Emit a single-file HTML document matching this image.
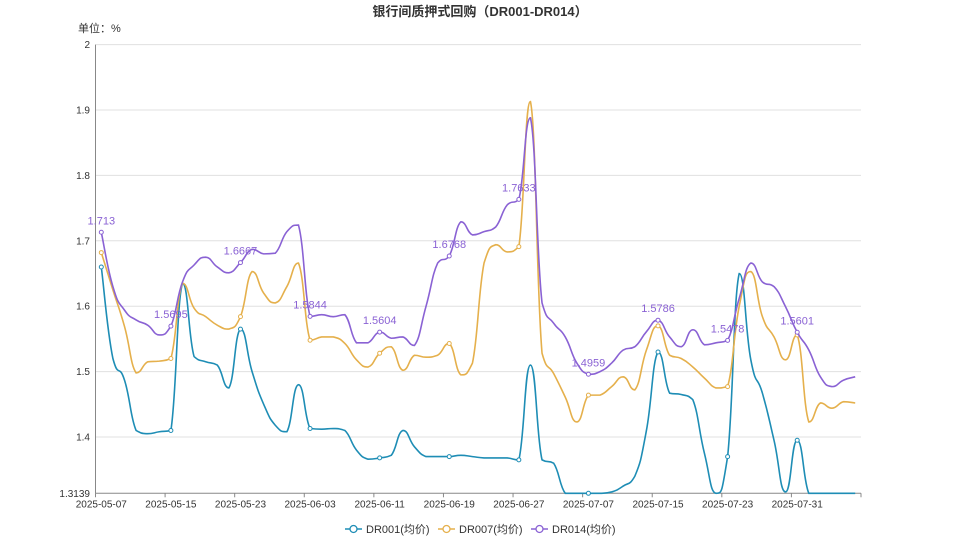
<!DOCTYPE html>
<html><head><meta charset="utf-8">
<style>
body{margin:0;background:#fff;}
svg{display:block;font-family:"Liberation Sans","Noto Sans CJK SC",sans-serif;}
</style></head>
<body>
<svg id="chart" width="959" height="539" viewBox="0 0 959 539">
<text x="480" y="16" text-anchor="middle" font-size="13" font-weight="bold" fill="#333">银行间质押式回购（DR001-DR014）</text>
<text x="78" y="32" font-size="11" fill="#333">单位：%</text>
<g id="grid"></g>
<g id="series"></g>
<g id="legend"></g>
</svg>
<script>
const dates=["2025-05-07","2025-05-08","2025-05-09","2025-05-12","2025-05-13","2025-05-14","2025-05-15","2025-05-16","2025-05-19","2025-05-20","2025-05-21","2025-05-22","2025-05-23","2025-05-26","2025-05-27","2025-05-28","2025-05-29","2025-05-30","2025-06-03","2025-06-04","2025-06-05","2025-06-06","2025-06-09","2025-06-10","2025-06-11","2025-06-12","2025-06-13","2025-06-16","2025-06-17","2025-06-18","2025-06-19","2025-06-20","2025-06-23","2025-06-24","2025-06-25","2025-06-26","2025-06-27","2025-06-30","2025-07-01","2025-07-02","2025-07-03","2025-07-04","2025-07-07","2025-07-08","2025-07-09","2025-07-10","2025-07-11","2025-07-14","2025-07-15","2025-07-16","2025-07-17","2025-07-18","2025-07-21","2025-07-22","2025-07-23","2025-07-24","2025-07-25","2025-07-28","2025-07-29","2025-07-30","2025-07-31","2025-08-01","2025-08-04","2025-08-05","2025-08-06","2025-08-07"];
const dr001=[1.66,1.52,1.487,1.41,1.405,1.408,1.41,1.635,1.523,1.515,1.51,1.475,1.565,1.50,1.45,1.418,1.408,1.48,1.413,1.412,1.413,1.41,1.38,1.366,1.368,1.372,1.41,1.385,1.37,1.37,1.37,1.372,1.37,1.368,1.368,1.368,1.365,1.51,1.365,1.36,1.3139,1.3139,1.3139,1.3139,1.316,1.325,1.34,1.41,1.53,1.467,1.465,1.457,1.375,1.3139,1.37,1.65,1.518,1.467,1.395,1.316,1.395,1.3139,1.3139,1.3139,1.3139,1.3139];
const dr007=[1.682,1.625,1.569,1.498,1.515,1.516,1.52,1.635,1.597,1.584,1.571,1.565,1.584,1.653,1.62,1.605,1.63,1.666,1.548,1.553,1.553,1.543,1.518,1.507,1.528,1.538,1.502,1.525,1.522,1.525,1.543,1.495,1.513,1.666,1.694,1.683,1.691,1.913,1.528,1.497,1.461,1.423,1.464,1.464,1.477,1.492,1.472,1.533,1.57,1.525,1.52,1.507,1.49,1.475,1.477,1.60,1.653,1.584,1.553,1.518,1.556,1.423,1.452,1.444,1.454,1.452];
const dr014=[1.713,1.63,1.594,1.579,1.571,1.556,1.5695,1.637,1.663,1.675,1.66,1.651,1.6667,1.687,1.68,1.681,1.714,1.724,1.5844,1.587,1.584,1.587,1.544,1.544,1.5604,1.551,1.553,1.54,1.60,1.666,1.6768,1.729,1.709,1.714,1.721,1.755,1.7633,1.888,1.605,1.574,1.553,1.513,1.4959,1.50,1.513,1.533,1.538,1.561,1.5786,1.553,1.538,1.564,1.541,1.544,1.5478,1.612,1.666,1.637,1.63,1.599,1.5601,1.533,1.492,1.477,1.487,1.492];
const yTicks=[1.3139,1.4,1.5,1.6,1.7,1.8,1.9,2];
const seriesNames=["DR001(均价)","DR007(均价)","DR014(均价)"];

const NS="http://www.w3.org/2000/svg";
const L=95.5,R=861,T=44.6,B=493.3,YMIN=1.3139,YMAX=2;
const bw=(R-L)/dates.length;
function xs(i){return L+bw*(i+0.5);}
function ys(v){return B-(v-YMIN)/(YMAX-YMIN)*(B-T);}
function mk(tag,attrs,parent){const e=document.createElementNS(NS,tag);for(const k in attrs)e.setAttribute(k,attrs[k]);parent.appendChild(e);return e;}
const grid=document.getElementById('grid');
yTicks.forEach((t,i)=>{
  const y=ys(t);
  if(i>0){const gl=mk('line',{x1:L,x2:R,y1:y,y2:y,stroke:'#e0e0e0','stroke-width':1},grid);
  
  }
  const tx=mk('text',{x:90,y:y+3.5,'text-anchor':'end','font-size':10,fill:'#333'},grid);
  tx.textContent=String(t);
  
  
});
const ya=mk('line',{x1:L,x2:L,y1:T,y2:B,stroke:'#888','stroke-width':1},grid);


const xa=mk('line',{x1:L,x2:R,y1:B,y2:B,stroke:'#888','stroke-width':1},grid);


for(let i=0;i<dates.length;i+=6){
  const tk=mk('line',{x1:L+bw*i,x2:L+bw*i,y1:B,y2:B+4,stroke:'#888'},grid);
  
  
  const tx=mk('text',{x:xs(i),y:B+14,'text-anchor':'middle','font-size':10,fill:'#333'},grid);
  tx.textContent=dates[i];
  
  
}
const tkEnd=mk('line',{x1:R,x2:R,y1:B,y2:B+4,stroke:'#888'},grid);



function smoothPath(pts){
  let d='M'+pts[0][0]+','+pts[0][1];
  const s=0.5;
  for(let i=0;i<pts.length-1;i++){
    const p0=pts[i-1]||pts[i],p1=pts[i],p2=pts[i+1],p3=pts[i+2]||p2;
    let c1x=p1[0]+(p2[0]-p0[0])*s/2,c1y=p1[1]+(p2[1]-p0[1])*s/2;
    let c2x=p2[0]-(p3[0]-p1[0])*s/2,c2y=p2[1]-(p3[1]-p1[1])*s/2;
    const mn=Math.min(p1[1],p2[1]),mx=Math.max(p1[1],p2[1]);
    c1y=Math.min(Math.max(c1y,mn),mx);
    c2y=Math.min(Math.max(c2y,mn),mx);
    d+=' C'+c1x+','+c1y+' '+c2x+','+c2y+' '+p2[0]+','+p2[1];
  }
  return d;
}
const sg=document.getElementById('series');
const colors=['#1e8db5','#e5b04c','#8a62d4'];
const allData=[dr001,dr007,dr014];
const keys=['dr001','dr007','dr014'];
allData.forEach((data,si)=>{
  const pts=data.map((v,i)=>[xs(i),ys(v)]);
  const p=mk('path',{d:smoothPath(pts),fill:'none',stroke:colors[si],'stroke-width':1.6},sg);
  
  
  for(let i=0;i<data.length;i+=6){
    const c=mk('circle',{cx:pts[i][0],cy:pts[i][1],r:2,fill:'#fff',stroke:colors[si],'stroke-width':1},sg);
    
    
    if(si===2){
      const t=mk('text',{x:pts[i][0],y:pts[i][1]-8,'text-anchor':'middle','font-size':11,fill:'#8a62d4'},sg);
      t.textContent=String(data[i]);
      
      
    }
  }
});
const lg=document.getElementById('legend');
const lx=[345,438,531];
seriesNames.forEach((n,i)=>{
  const g=mk('g',{},lg);
  
  
  mk('line',{x1:lx[i],x2:lx[i]+17,y1:529,y2:529,stroke:colors[i],'stroke-width':1.5},g);
  mk('circle',{cx:lx[i]+8.5,cy:529,r:3.5,fill:'#fff',stroke:colors[i],'stroke-width':1.3},g);
  const t=mk('text',{x:lx[i]+21,y:533,'font-size':11,fill:'#333'},g);
  t.textContent=n;
});
</script>
</body></html>
